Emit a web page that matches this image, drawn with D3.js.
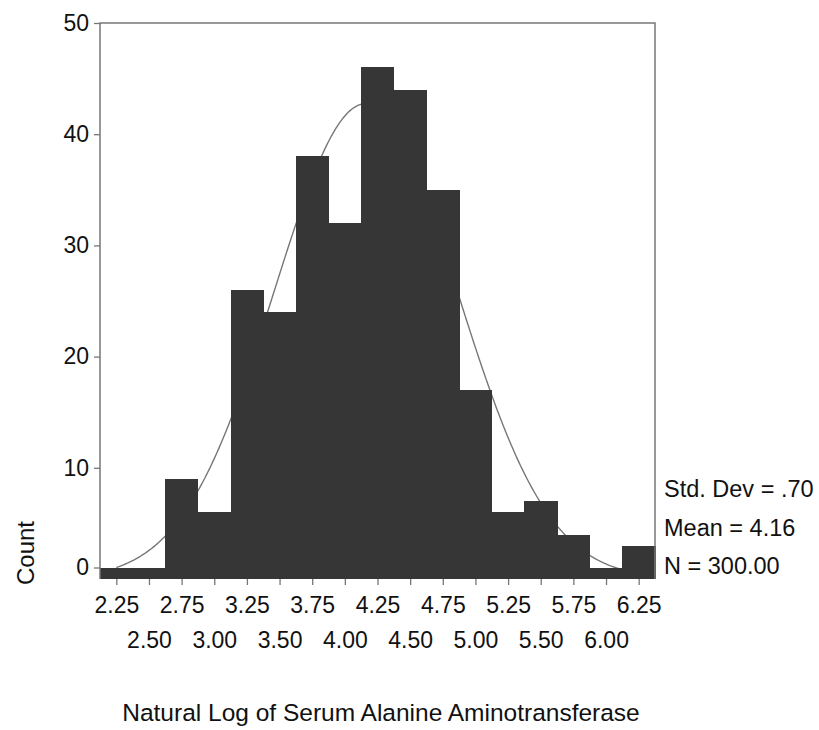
<!doctype html>
<html>
<head>
  <meta charset="utf-8">
  <title>Histogram</title>
  <script src="https://d3js.org/d3.v7.min.js"></script>
  <style>
    body { margin: 0; background: #fff; }
    text { font-family: "Liberation Sans", Arial, sans-serif; fill: #111; }
  </style>
</head>
<body>
<svg id="chart" width="819" height="730"></svg>
<script>
  // DATA
  const binCenters = [2.25, 2.50, 2.75, 3.00, 3.25, 3.50, 3.75, 4.00, 4.25, 4.50, 4.75, 5.00, 5.25, 5.50, 5.75, 6.00, 6.25];
  const counts     = [1, 1, 9, 6, 26, 24, 38, 32, 46, 44, 35, 17, 6, 7, 4, 1, 3];
  const yTicks = [0, 10, 20, 30, 40, 50];
  const binWidth = 0.25;
  const stdDev = 0.70, mean = 4.16, n = 300;
  const statLabels = ["Std. Dev = .70", "Mean = 4.16", "N = 300.00"];

  let svg = d3.select("#chart");
  let plotLeft = 100, plotRight = 655, plotTop = 23, plotBottom = 579;

  let x = d3.scaleLinear()
    .domain([binCenters[0] - binWidth / 2, binCenters[binCenters.length - 1] + binWidth / 2])
    .range([plotLeft, plotRight]);
  let y = d3.scaleLinear().domain([0, 50]).range([plotBottom, plotTop]);

  // normal curve fitted with the stats shown (drawn under the bars)
  let scale = n * binWidth / (stdDev * Math.sqrt(2 * Math.PI));
  let curveX = d3.range(2.25, 6.2501, 0.01);
  let line = d3.line()
    .x(function(d) { return x(d); })
    .y(function(d) { return y(scale * Math.exp(-0.5 * Math.pow((d - mean) / stdDev, 2))); });
  svg.append("path")
    .datum(curveX)
    .attr("d", line)
    .attr("fill", "none")
    .attr("stroke", "#777")
    .attr("stroke-width", 1.4);

  // bars
  svg.selectAll("rect.bar")
    .data(binCenters)
    .enter().append("rect")
      .attr("class", "bar")
      .attr("x", function(d) { return x(d - binWidth / 2); })
      .attr("width", function(d) { return x(d + binWidth / 2) - x(d - binWidth / 2) + 0.5; })
      .attr("y", function(d, i) { return y(counts[i]); })
      .attr("height", function(d, i) { return y(0) - y(counts[i]); })
      .attr("fill", "#363636")
      .attr("shape-rendering", "crispEdges");

  // frame
  svg.append("path")
    .attr("d", "M" + plotLeft + "," + plotBottom + "V" + plotTop + "H" + plotRight + "V" + plotBottom)
    .attr("fill", "none")
    .attr("stroke", "#777")
    .attr("stroke-width", 1.5);

  // y axis
  let yAxis = svg.append("g")
    .attr("transform", "translate(" + plotLeft + ",0)")
    .call(d3.axisLeft(y).tickValues(yTicks).tickSize(6).tickPadding(5));
  yAxis.select(".domain").remove();
  yAxis.selectAll(".tick line").attr("stroke", "#777").attr("stroke-width", 1.3);
  yAxis.selectAll(".tick text").attr("font-size", 23).attr("fill", "#111")
    .style("font-family", "'Liberation Sans', Arial, sans-serif");
  // SPSS draws the 0 label slightly above the baseline
  yAxis.selectAll(".tick").filter(function(d) { return d === 0; })
    .attr("transform", "translate(0," + (y(0) - 11) + ")");

  // x axis
  let xAxis = svg.append("g")
    .attr("transform", "translate(0," + plotBottom + ")")
    .call(d3.axisBottom(x).tickValues(binCenters).tickSize(6).tickFormat(d3.format(".2f")));
  xAxis.select(".domain").remove();
  xAxis.selectAll(".tick line").attr("stroke", "#777").attr("stroke-width", 1.3);
  xAxis.selectAll(".tick text")
    .attr("font-size", 23).attr("fill", "#111")
    .style("font-family", "'Liberation Sans', Arial, sans-serif")
    .attr("dy", null)
    .attr("y", function(d, i) { return i % 2 === 0 ? 34 : 69; });

  // stats
  svg.selectAll("text.stat")
    .data(statLabels)
    .enter().append("text")
      .attr("class", "stat")
      .attr("x", 664)
      .attr("y", function(d, i) { return 497 + i * 38.5; })
      .attr("font-size", 23.5)
      .text(function(d) { return d; });

  // titles
  svg.append("text")
    .attr("transform", "translate(34,553) rotate(-90)")
    .attr("text-anchor", "middle")
    .attr("font-size", 24)
    .text("Count");

  svg.append("text")
    .attr("x", 381)
    .attr("y", 721)
    .attr("text-anchor", "middle")
    .attr("font-size", 24.5)
    .text("Natural Log of Serum Alanine Aminotransferase");
</script>
</body>
</html>
